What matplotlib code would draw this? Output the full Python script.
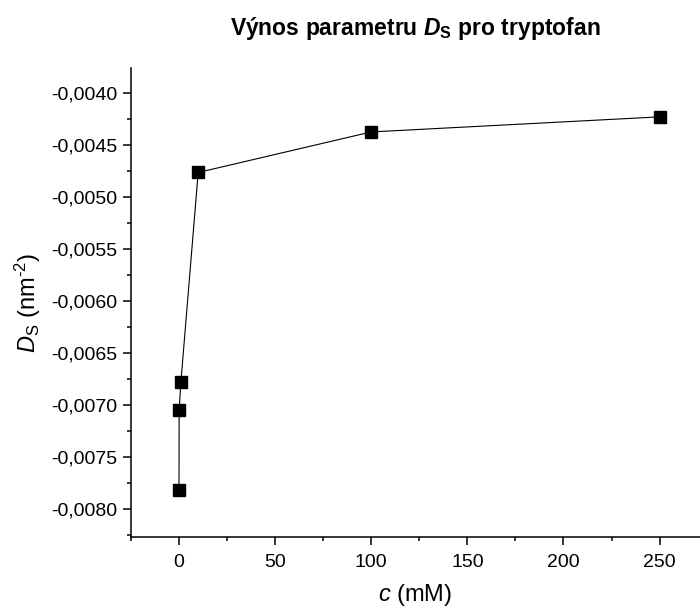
import numpy as np
import matplotlib
matplotlib.use('Agg')
import matplotlib.pyplot as plt
from matplotlib.ticker import MultipleLocator, FuncFormatter

plt.rcParams['font.family'] = ['Liberation Sans', 'DejaVu Sans']
plt.rcParams['mathtext.fontset'] = 'custom'
plt.rcParams['mathtext.rm'] = 'Liberation Sans'
plt.rcParams['mathtext.it'] = 'Liberation Sans:italic'
plt.rcParams['mathtext.bf'] = 'Liberation Sans:bold'
plt.rcParams['mathtext.bfit'] = 'Liberation Sans:bold:italic'

# koncentrace (mM) a parametr D_S (nm^-2)
c = [0.01, 0.1, 1, 10, 100, 250]
Ds = [-0.00782, -0.00705, -0.00678, -0.004765, -0.004375, -0.00423]

fig = plt.figure(figsize=(7, 6.08), dpi=100)
ax = fig.add_axes([0.187, 0.1168, 0.813, 0.7714])

ax.plot(c, Ds, 'k-', lw=0.8, marker='s', markersize=8, clip_on=False)

ax.set_xlim(-25, 271)
ax.set_ylim(-0.00827, -0.00376)

ax.xaxis.set_major_locator(MultipleLocator(50))
ax.xaxis.set_minor_locator(MultipleLocator(25))
ax.yaxis.set_major_locator(MultipleLocator(0.0005))
ax.yaxis.set_minor_locator(MultipleLocator(0.00025))
ax.yaxis.set_major_formatter(FuncFormatter(lambda v, p: f"{v:.4f}".replace('.', ',')))

for s in ['top', 'right']:
    ax.spines[s].set_visible(False)
for s in ['left', 'bottom']:
    ax.spines[s].set_linewidth(1.1)

ax.tick_params(which='major', direction='out', length=6, width=1.1, labelsize=14)
ax.tick_params(which='minor', direction='out', length=3, width=1.1)
ax.tick_params(axis='x', which='major', pad=6)

ax.set_xlabel('$c$ (mM)', fontsize=17, labelpad=8)
ax.set_ylabel(r'$D_\mathrm{S}$ (nm$^{\text{-2}}$)', fontsize=17, labelpad=6)
ax.set_title(r'Výnos parametru $\mathbfit{D}_\mathbf{S}$ pro tryptofan',
             fontsize=16.5, fontweight='bold', pad=24)

fig.savefig('out.png', dpi=100)
